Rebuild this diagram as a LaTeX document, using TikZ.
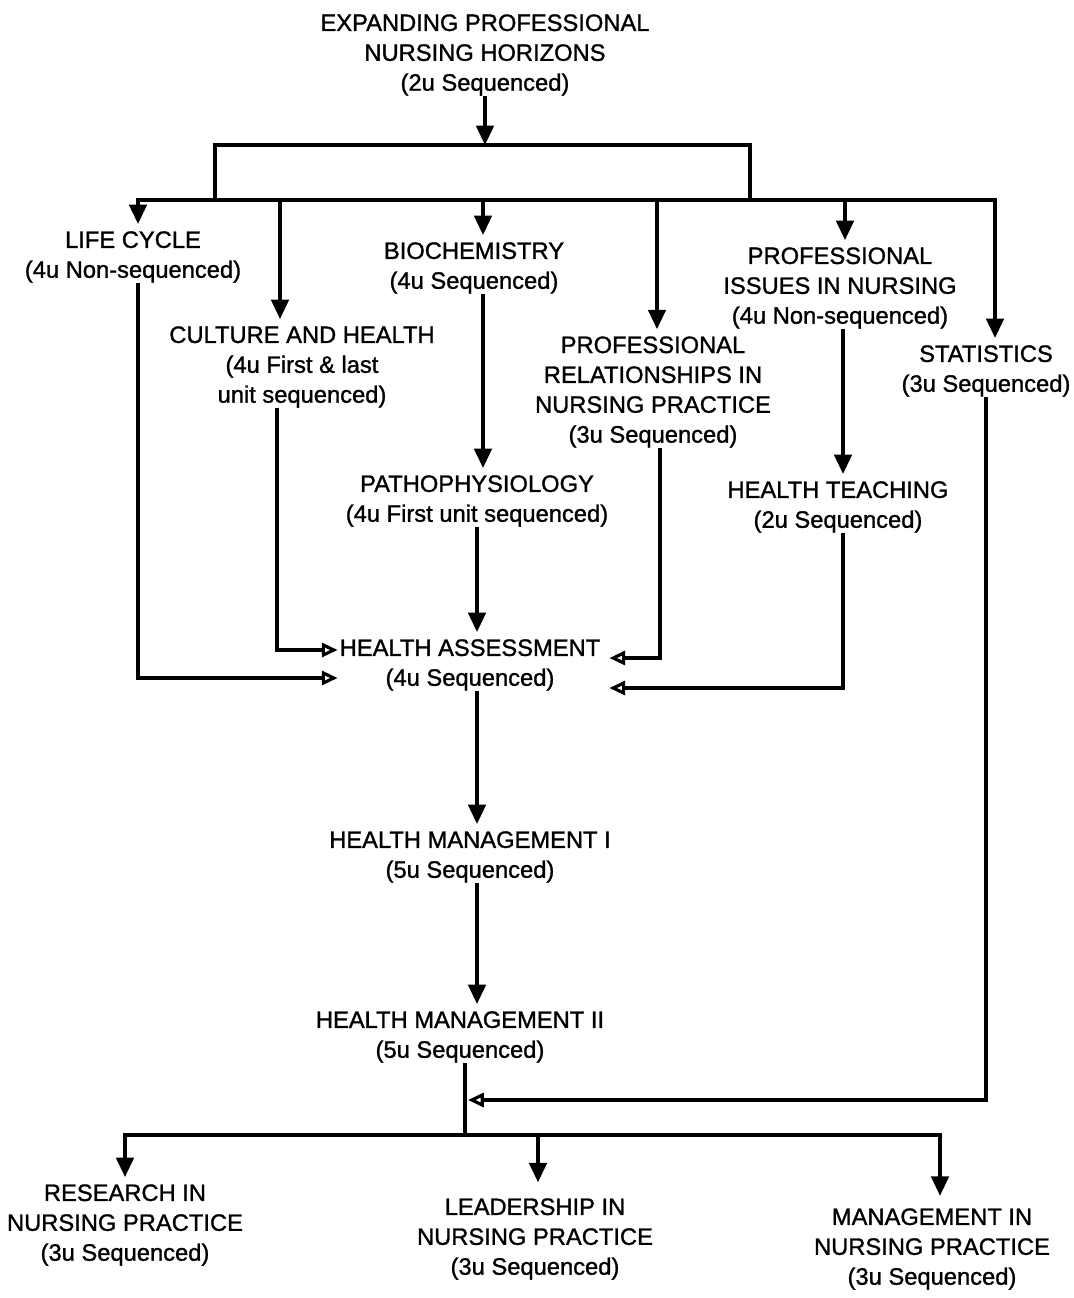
\documentclass[tikz,border=0pt]{standalone}
\usepackage{fontspec}
\setmainfont{Liberation Sans}
\newfontfamily\scanfont{Liberation Sans}[FakeBold=1.2]
\usetikzlibrary{arrows.meta}

\begin{document}
\begin{tikzpicture}[x=0.02cm, y=-0.02cm,
  course/.style={align=center, inner sep=1pt, font=\scanfont\fontsize{13.5}{17}\selectfont},
  link/.style={line width=1.8pt, line cap=rect},
  drop/.style={link, -{Triangle[length=11pt,width=10pt]}, shorten >=3pt},
  feed/.style={link, -{Triangle[open,length=9pt,width=8pt]}}]
  \useasboundingbox (0,0) rectangle (1074,1298);

  \node[course] (top) at (485,55) {EXPANDING PROFESSIONAL\\NURSING HORIZONS\\(2u Sequenced)};
  \node[course] (life) at (133,257) {LIFE CYCLE\\(4u Non-sequenced)};
  \node[course] (culture) at (302,367) {CULTURE AND HEALTH\\(4u First \& last\\unit sequenced)};
  \node[course] (biochem) at (474,268) {BIOCHEMISTRY\\(4u Sequenced)};
  \node[course] (relations) at (653,392) {PROFESSIONAL\\RELATIONSHIPS IN\\NURSING PRACTICE\\(3u Sequenced)};
  \node[course] (issues) at (840,288) {PROFESSIONAL\\ISSUES IN NURSING\\(4u Non-sequenced)};
  \node[course] (stats) at (986,371) {STATISTICS\\(3u Sequenced)};
  \node[course] (patho) at (477,501) {PATHOPHYSIOLOGY\\(4u First unit sequenced)};
  \node[course] (teach) at (838,507) {HEALTH TEACHING\\(2u Sequenced)};
  \node[course] (assess) at (470,665) {HEALTH ASSESSMENT\\(4u Sequenced)};
  \node[course] (manage1) at (470,857) {HEALTH MANAGEMENT I\\(5u Sequenced)};
  \node[course] (manage2) at (460,1037) {HEALTH MANAGEMENT II\\(5u Sequenced)};
  \node[course] (research) at (125,1225) {RESEARCH IN\\NURSING PRACTICE\\(3u Sequenced)};
  \node[course] (leader) at (535,1239) {LEADERSHIP IN\\NURSING PRACTICE\\(3u Sequenced)};
  \node[course] (mgmt) at (932,1249) {MANAGEMENT IN\\NURSING PRACTICE\\(3u Sequenced)};

  \draw[drop, shorten >=0pt] (top) -- (top |- 0,145);
  \draw[link] (215,200) -- (215,145) -- (750,145) -- (750,200);
  \draw[link] (138,200) -- (995,200);
  \draw[drop] (138,200) -- (138,0 |- life.north);
  \draw[drop] (280,200) -- (280,0 |- culture.north);
  \draw[drop] (483,200) -- (483,0 |- biochem.north);
  \draw[drop] (657,200) -- (657,0 |- relations.north);
  \draw[drop] (845,200) -- (845,0 |- issues.north);
  \draw[drop] (995,200) -- (995,0 |- stats.north);

  \draw[feed] (138,0 |- life.south) -- (138,678) -- (assess.west |- 0,678);
  \draw[feed] (277,0 |- culture.south) -- (277,650) -- (assess.west |- 0,650);
  \draw[drop] (483,0 |- biochem.south) -- (483,0 |- patho.north);
  \draw[drop] (477,0 |- patho.south) -- (477,0 |- assess.north);
  \draw[feed] (660,0 |- relations.south) -- (660,658) -- ([xshift=4pt]assess.east |- 0,658);
  \draw[drop] (843,0 |- issues.south) -- (843,0 |- teach.north);
  \draw[feed] (843,0 |- teach.south) -- (843,688) -- ([xshift=4pt]assess.east |- 0,688);
  \draw[drop] (477,0 |- assess.south) -- (477,0 |- manage1.north);
  \draw[drop] (477,0 |- manage1.south) -- (477,0 |- manage2.north);

  \coordinate (join) at (468,1100);
  \draw[link] (465,0 |- manage2.south) -- (465,1135);
  \draw[feed] (986,0 |- stats.south) -- (986,1100) -- (join);
  \draw[link] (125,1135) -- (940,1135);
  \draw[drop] (125,1135) -- (research.north);
  \draw[drop, shorten >=8pt] (538,1135) -- (538,0 |- leader.north);
  \draw[drop, shorten >=6pt] (940,1135) -- (940,0 |- mgmt.north);
\end{tikzpicture}
\end{document}
